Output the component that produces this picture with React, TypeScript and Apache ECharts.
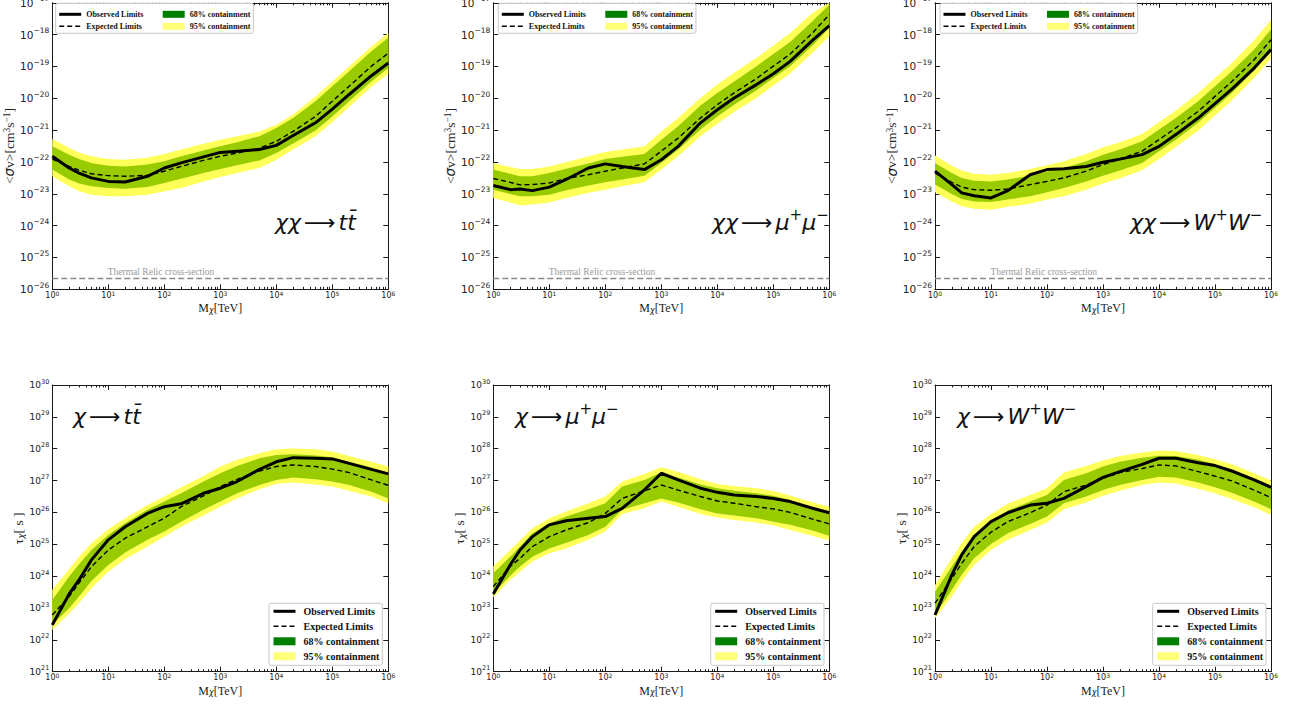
import React, { useEffect, useRef } from 'react';
import * as echarts from 'echarts';

// Dark-matter mass grid (TeV)
const massTeV = [1, 2, 3, 5, 10, 20, 50, 100, 200, 500, 1e3, 2e3, 5e3, 1e4, 2e4, 5e4, 1e5, 2e5, 5e5, 1e6];

// ---- Annihilation limits: log10(<σv> / cm^3 s^-1) ----
const annTTObs = [-21.82, -22.19, -22.35, -22.5, -22.61, -22.63, -22.45, -22.19, -22.03, -21.84, -21.7, -21.66, -21.61, -21.48, -21.17, -20.77, -20.34, -19.88, -19.29, -18.89];
const annTTExp = [-21.91, -22.14, -22.26, -22.37, -22.43, -22.45, -22.42, -22.29, -22.14, -21.95, -21.82, -21.72, -21.57, -21.35, -21.04, -20.57, -20.09, -19.62, -18.99, -18.58];
const annTTHi68 = [-21.51, -21.77, -21.91, -22.03, -22.12, -22.14, -22.08, -21.98, -21.82, -21.64, -21.51, -21.38, -21.19, -20.93, -20.62, -20.09, -19.62, -19.15, -18.52, -18.1];
const annTTLo68 = [-22.24, -22.55, -22.68, -22.76, -22.82, -22.84, -22.79, -22.66, -22.53, -22.35, -22.22, -22.1, -21.95, -21.72, -21.42, -21.01, -20.57, -20.09, -19.47, -19.05];
const annTTHi95 = [-21.28, -21.56, -21.7, -21.82, -21.91, -21.93, -21.87, -21.75, -21.61, -21.43, -21.3, -21.19, -21.04, -20.83, -20.51, -19.94, -19.47, -19.0, -18.37, -17.95];
const annTTLo95 = [-22.45, -22.76, -22.92, -23.03, -23.08, -23.08, -23.03, -22.92, -22.82, -22.61, -22.47, -22.35, -22.19, -21.93, -21.61, -21.19, -20.75, -20.27, -19.64, -19.23];

const annMMObs = [-22.74, -22.87, -22.85, -22.9, -22.79, -22.55, -22.19, -22.06, -22.14, -22.24, -21.93, -21.51, -20.77, -20.36, -19.99, -19.57, -19.23, -18.84, -18.18, -17.72];
const annMMExp = [-22.52, -22.64, -22.72, -22.71, -22.66, -22.52, -22.4, -22.29, -22.19, -22.06, -21.66, -21.25, -20.62, -20.2, -19.83, -19.38, -18.99, -18.61, -17.95, -17.37];
const annMMHi68 = [-22.24, -22.37, -22.45, -22.45, -22.35, -22.21, -22.05, -21.91, -21.84, -21.75, -21.3, -20.88, -20.23, -19.83, -19.47, -18.99, -18.61, -18.23, -17.58, -17.06];
const annMMLo68 = [-22.87, -23.01, -23.08, -23.08, -23.03, -22.89, -22.74, -22.64, -22.55, -22.43, -22.03, -21.61, -20.98, -20.57, -20.2, -19.75, -19.36, -18.99, -18.34, -17.79];
const annMMHi95 = [-22.03, -22.16, -22.22, -22.22, -22.14, -22.01, -21.82, -21.69, -21.61, -21.51, -21.04, -20.62, -19.99, -19.57, -19.2, -18.73, -18.35, -17.95, -17.32, -16.8];
const annMMLo95 = [-23.13, -23.27, -23.37, -23.34, -23.27, -23.13, -22.97, -22.87, -22.76, -22.64, -22.24, -21.82, -21.19, -20.8, -20.43, -19.99, -19.6, -19.23, -18.58, -18.05];

const annWWObs = [-22.29, -22.71, -22.97, -23.06, -23.13, -22.9, -22.4, -22.24, -22.21, -22.14, -22.01, -21.91, -21.77, -21.51, -21.14, -20.62, -20.17, -19.71, -19.05, -18.47];
const annWWExp = [-22.35, -22.64, -22.79, -22.87, -22.89, -22.85, -22.71, -22.61, -22.5, -22.29, -22.08, -21.91, -21.66, -21.3, -20.93, -20.41, -19.94, -19.47, -18.79, -18.16];
const annWWHi68 = [-22.03, -22.35, -22.5, -22.59, -22.61, -22.55, -22.43, -22.31, -22.19, -21.98, -21.77, -21.61, -21.35, -20.98, -20.62, -20.09, -19.62, -19.15, -18.47, -17.84];
const annWWLo68 = [-22.71, -23.01, -23.16, -23.24, -23.26, -23.18, -23.08, -22.95, -22.82, -22.61, -22.43, -22.27, -22.03, -21.66, -21.3, -20.77, -20.3, -19.83, -19.13, -18.52];
const annWWHi95 = [-21.8, -22.12, -22.27, -22.37, -22.4, -22.35, -22.22, -22.1, -21.98, -21.75, -21.54, -21.38, -21.12, -20.75, -20.38, -19.83, -19.36, -18.89, -18.18, -17.53];
const annWWLo95 = [-22.95, -23.24, -23.39, -23.47, -23.5, -23.41, -23.31, -23.18, -23.08, -22.87, -22.68, -22.52, -22.26, -21.91, -21.53, -21.02, -20.54, -20.07, -19.36, -18.75];

// ---- Decay limits: log10(τ / s) ----
const decTTObs = [22.47, 23.44, 23.88, 24.51, 25.14, 25.55, 25.97, 26.18, 26.27, 26.6, 26.76, 26.97, 27.35, 27.59, 27.72, 27.7, 27.68, 27.54, 27.35, 27.21];
const decTTExp = [22.78, 23.36, 23.78, 24.3, 24.82, 25.19, 25.55, 25.82, 26.18, 26.52, 26.81, 27.04, 27.3, 27.44, 27.49, 27.44, 27.36, 27.25, 27.02, 26.85];
const decTTHi68 = [23.25, 23.99, 24.37, 24.82, 25.29, 25.66, 26.08, 26.34, 26.6, 26.97, 27.23, 27.46, 27.7, 27.8, 27.83, 27.79, 27.73, 27.59, 27.41, 27.23];
const decTTLo68 = [22.47, 22.99, 23.36, 23.85, 24.35, 24.74, 25.14, 25.4, 25.71, 26.08, 26.34, 26.6, 26.86, 27.02, 27.1, 27.04, 26.97, 26.86, 26.65, 26.44];
const decTTHi95 = [23.57, 24.22, 24.61, 25.03, 25.47, 25.82, 26.23, 26.5, 26.79, 27.14, 27.44, 27.65, 27.86, 27.98, 28.01, 27.98, 27.91, 27.77, 27.59, 27.44];
const decTTLo95 = [22.31, 22.83, 23.15, 23.62, 24.14, 24.53, 24.93, 25.24, 25.55, 25.9, 26.18, 26.44, 26.73, 26.89, 26.94, 26.88, 26.81, 26.68, 26.5, 26.29];

const decMMObs = [23.44, 24.35, 24.82, 25.24, 25.61, 25.74, 25.82, 25.87, 26.13, 26.71, 27.23, 27.02, 26.76, 26.63, 26.55, 26.5, 26.44, 26.34, 26.13, 25.99];
const decMMExp = [23.67, 24.3, 24.56, 24.93, 25.24, 25.45, 25.68, 25.97, 26.44, 26.68, 26.86, 26.7, 26.5, 26.36, 26.29, 26.18, 26.11, 26.0, 25.79, 25.64];
const decMMHi68 = [24.09, 24.61, 24.93, 25.35, 25.66, 25.87, 26.1, 26.29, 26.81, 27.02, 27.25, 27.1, 26.88, 26.76, 26.68, 26.6, 26.52, 26.39, 26.18, 26.03];
const decMMLo68 = [23.46, 24.01, 24.3, 24.61, 24.87, 25.05, 25.29, 25.55, 26.08, 26.29, 26.44, 26.31, 26.1, 25.97, 25.9, 25.82, 25.71, 25.61, 25.43, 25.27];
const decMMHi95 = [24.3, 24.82, 25.12, 25.5, 25.82, 26.03, 26.29, 26.5, 26.97, 27.21, 27.42, 27.28, 27.04, 26.89, 26.83, 26.76, 26.67, 26.53, 26.32, 26.18];
const decMMLo95 = [23.33, 23.88, 24.14, 24.46, 24.72, 24.87, 25.14, 25.4, 25.95, 26.13, 26.34, 26.18, 25.95, 25.84, 25.76, 25.68, 25.59, 25.45, 25.27, 25.12];

const decWWObs = [22.78, 24.04, 24.67, 25.24, 25.71, 25.99, 26.23, 26.29, 26.44, 26.81, 27.1, 27.28, 27.51, 27.7, 27.7, 27.56, 27.47, 27.3, 27.02, 26.79];
const decWWExp = [23.15, 23.93, 24.4, 24.93, 25.38, 25.71, 25.99, 26.23, 26.65, 26.86, 27.07, 27.25, 27.38, 27.49, 27.46, 27.28, 27.14, 26.99, 26.7, 26.46];
const decWWHi68 = [23.51, 24.3, 24.77, 25.29, 25.74, 26.06, 26.34, 26.55, 27.02, 27.23, 27.44, 27.59, 27.72, 27.78, 27.77, 27.65, 27.51, 27.35, 27.07, 26.86];
const decWWLo68 = [22.78, 23.57, 24.04, 24.56, 25.01, 25.35, 25.64, 25.87, 26.29, 26.5, 26.7, 26.86, 27.02, 27.12, 27.1, 26.94, 26.79, 26.62, 26.34, 26.1];
const decWWHi95 = [23.72, 24.56, 25.03, 25.55, 25.95, 26.27, 26.55, 26.76, 27.25, 27.46, 27.63, 27.77, 27.88, 27.94, 27.93, 27.8, 27.67, 27.51, 27.23, 27.0];
const decWWLo95 = [22.68, 23.36, 23.83, 24.35, 24.82, 25.14, 25.45, 25.68, 26.1, 26.31, 26.52, 26.68, 26.86, 26.94, 26.91, 26.74, 26.6, 26.42, 26.16, 25.92];

// Thermal relic cross-section, log10(2.2e-26)
const thermalRelicLog = -25.66;
const thermalRelicLabelMass = 10;

const annYRange = [-26, -17];
const decYRange = [21, 30];
const massRange = [1, 1e6];

const legendNames = ['Observed Limits', 'Expected Limits', '68% containment', '95% containment'];

const MINUS = '\u2212';
const expStr = (e: number) => (e < 0 ? MINUS : '') + Math.abs(e);

const minorTickExps: number[] = [];
for (let d = 0; d < 6; d++) for (let k = 2; k <= 9; k++) minorTickExps.push(d + Math.log10(k));

type Panel = {
  kind: 'ann' | 'dec';
  col: number;
  obs: number[]; exp: number[];
  lo68: number[]; hi68: number[]; lo95: number[]; hi95: number[];
  label: string; labelLeft: number; labelTop: number;
};

const panels: Panel[] = [
  { kind: 'ann', col: 0, obs: annTTObs, exp: annTTExp, lo68: annTTLo68, hi68: annTTHi68, lo95: annTTLo95, hi95: annTTHi95, label: '{g|χχ}{a|⟶}{g|tt\u0304}', labelLeft: 275, labelTop: 207 },
  { kind: 'ann', col: 1, obs: annMMObs, exp: annMMExp, lo68: annMMLo68, hi68: annMMHi68, lo95: annMMLo95, hi95: annMMHi95, label: '{g|χχ}{a|⟶}{g|μ}{s|+}{g|μ}{s|−}', labelLeft: 712, labelTop: 207 },
  { kind: 'ann', col: 2, obs: annWWObs, exp: annWWExp, lo68: annWWLo68, hi68: annWWHi68, lo95: annWWLo95, hi95: annWWHi95, label: '{g|χχ}{a|⟶}{g|W}{s|+}{g|W}{s|−}', labelLeft: 1130, labelTop: 207 },
  { kind: 'dec', col: 0, obs: decTTObs, exp: decTTExp, lo68: decTTLo68, hi68: decTTHi68, lo95: decTTLo95, hi95: decTTHi95, label: '{g|χ}{a|⟶}{g|tt\u0304}', labelLeft: 73, labelTop: 401 },
  { kind: 'dec', col: 1, obs: decMMObs, exp: decMMExp, lo68: decMMLo68, hi68: decMMHi68, lo95: decMMLo95, hi95: decMMHi95, label: '{g|χ}{a|⟶}{g|μ}{s|+}{g|μ}{s|−}', labelLeft: 515, labelTop: 401 },
  { kind: 'dec', col: 2, obs: decWWObs, exp: decWWExp, lo68: decWWLo68, hi68: decWWHi68, lo95: decWWLo95, hi95: decWWHi95, label: '{g|χ}{a|⟶}{g|W}{s|+}{g|W}{s|−}', labelLeft: 957, labelTop: 401 },
];

const GRID_LEFTS = [52.3, 493.3, 935];
const GRID_W = 336;
const TOP_Y = 2.8, TOP_H = 286.5, BOT_Y = 385, BOT_H = 286.7;
const ANN_LEGEND_LEFTS = [55.7, 498.3, 940];
const DEC_LEGEND_LEFTS = [269, 710.7, 1152.7];

const AXIS_COLOR = '#1a1a1a';
const LABEL_COLOR = '#222';
const BAND68 = '#99cc00';
const BAND95 = '#ffff5a';

function bandSeries(name: string, xi: number, yi: number, lo: number[], hi: number[], color: string) {
  const data = massTeV.map((m, k) => [m, lo[k], hi[k]]);
  return {
    type: 'custom', name, xAxisIndex: xi, yAxisIndex: yi, clip: true, silent: true,
    itemStyle: { color }, data, z: 1,
    renderItem: (params: any, api: any) => {
      if (params.dataIndex !== 0) return null;
      const cs = params.coordSys;
      const clampY = (p: number[]) => [p[0], Math.min(cs.y + cs.height, Math.max(cs.y, p[1]))];
      const up = data.map((d) => clampY(api.coord([d[0], d[2]])));
      const dn = data.map((d) => clampY(api.coord([d[0], d[1]]))).reverse();
      return { type: 'polygon', shape: { points: up.concat(dn) }, style: { fill: color, stroke: null } };
    },
  };
}

const hiddenSymbol = { color: 'rgba(0,0,0,0)', opacity: 0, borderWidth: 0 };

function buildOption() {
  const grid: any[] = [], xAxis: any[] = [], yAxis: any[] = [], series: any[] = [], legend: any[] = [], title: any[] = [];

  panels.forEach((p, i) => {
    const isAnn = p.kind === 'ann';
    grid.push({ left: GRID_LEFTS[p.col], top: isAnn ? TOP_Y : BOT_Y, width: GRID_W, height: isAnn ? TOP_H : BOT_H, containLabel: false, outerBoundsMode: 'none' });

    const xLabelRich = {
      b: { fontSize: 8, fontFamily: 'DejaVu Sans', color: LABEL_COLOR, lineHeight: 10 },
      s: { fontSize: 6, fontFamily: 'DejaVu Sans', color: LABEL_COLOR, lineHeight: 4, verticalAlign: 'top' },
    };
    xAxis.push({
      type: 'log', logBase: 10, gridIndex: i, min: massRange[0], max: massRange[1], position: 'bottom',
      axisLine: { show: true, onZero: false, lineStyle: { color: AXIS_COLOR, width: 1 } },
      axisTick: { show: true, inside: true, length: 5, lineStyle: { color: AXIS_COLOR } },
      axisLabel: { margin: 1, formatter: (v: number) => `{b|10}{s|${expStr(Math.round(Math.log10(v)))}}`, rich: xLabelRich },
      splitLine: { show: false },
      name: 'M{sub|χ}[TeV]', nameLocation: 'middle', nameGap: 13,
      nameTextStyle: {
        fontFamily: 'Liberation Serif', fontSize: 12, color: LABEL_COLOR,
        rich: { sub: { fontFamily: 'DejaVu Sans', fontStyle: 'italic', fontSize: 8, verticalAlign: 'bottom', lineHeight: 10, color: LABEL_COLOR } },
      },
    });
    xAxis.push({
      type: 'log', logBase: 10, gridIndex: i, min: massRange[0], max: massRange[1], position: 'top',
      axisLine: { show: true, onZero: false, lineStyle: { color: AXIS_COLOR, width: 1 } },
      axisTick: { show: true, inside: true, length: 5, lineStyle: { color: AXIS_COLOR } },
      axisLabel: { show: false }, splitLine: { show: false },
    });
    for (const pos of ['bottom', 'top']) {
      xAxis.push({
        type: 'value', gridIndex: i, min: 0, max: 6, position: pos,
        axisLine: { show: false, onZero: false },
        axisTick: { show: true, inside: true, length: 2.5, customValues: minorTickExps, lineStyle: { color: AXIS_COLOR } },
        axisLabel: { show: false }, splitLine: { show: false },
      });
    }

    const yr = isAnn ? annYRange : decYRange;
    const yb = isAnn ? 10.5 : 9;
    const ys = isAnn ? 7.5 : 6.5;
    yAxis.push({
      type: 'value', gridIndex: i, min: yr[0], max: yr[1], interval: 1, position: 'left',
      axisLine: { show: true, onZero: false, lineStyle: { color: AXIS_COLOR, width: 1 } },
      axisTick: { show: true, inside: true, length: 5, lineStyle: { color: AXIS_COLOR } },
      axisLabel: {
        margin: 3, formatter: (v: number) => `{b|10}{s|${expStr(Math.round(v))}}`,
        rich: {
          b: { fontSize: yb, fontFamily: 'DejaVu Sans', color: LABEL_COLOR, lineHeight: yb * 1.55 },
          s: { fontSize: ys, fontFamily: 'DejaVu Sans', color: LABEL_COLOR, lineHeight: ys, verticalAlign: 'top' },
        },
      },
      splitLine: { show: false },
      name: isAnn ? '<{i|σ}v>[cm{s|3}s{s|−1}]' : '{t|τ}{sub|χ}[ s ]',
      nameLocation: 'middle', nameGap: isAnn ? 26 : 24, nameRotate: 90,
      nameTextStyle: {
        fontFamily: 'Liberation Serif', fontSize: 13.5, color: LABEL_COLOR, lineHeight: 14,
        rich: {
          i: { fontFamily: 'DejaVu Sans', fontStyle: 'italic', fontSize: 13.5, color: LABEL_COLOR, lineHeight: 14 },
          t: { fontFamily: 'Liberation Serif', fontSize: 13.5, color: LABEL_COLOR, lineHeight: 14 },
          s: { fontFamily: 'Liberation Serif', fontSize: 9.5, color: LABEL_COLOR, verticalAlign: 'top', lineHeight: 7 },
          sub: { fontFamily: 'DejaVu Sans', fontStyle: 'italic', fontSize: 9, color: LABEL_COLOR, verticalAlign: 'bottom', lineHeight: 7 },
        },
      },
    });
    yAxis.push({
      type: 'value', gridIndex: i, min: yr[0], max: yr[1], interval: 1, position: 'right',
      axisLine: { show: true, onZero: false, lineStyle: { color: AXIS_COLOR, width: 1 } },
      axisTick: { show: true, inside: true, length: 5, lineStyle: { color: AXIS_COLOR } },
      axisLabel: { show: false }, splitLine: { show: false },
    });

    const xi = i * 4, yi = i * 2;
    series.push(bandSeries('95% containment', xi, yi, p.lo95, p.hi95, BAND95));
    series.push(bandSeries('68% containment', xi, yi, p.lo68, p.hi68, BAND68));
    if (isAnn) {
      series.push({
        type: 'line', name: 'Thermal Relic cross-section', xAxisIndex: xi, yAxisIndex: yi, silent: true,
        data: [[massRange[0], thermalRelicLog], [massRange[1], thermalRelicLog]],
        symbol: 'none', lineStyle: { color: '#8a8a8a', width: 1.4, type: [6, 3] }, z: 2,
        markPoint: {
          symbol: 'circle', symbolSize: 1, itemStyle: { color: 'rgba(0,0,0,0)' }, silent: true,
          label: { show: true, position: [0, -11], formatter: 'Thermal Relic cross-section', color: '#9a9a9a', fontFamily: 'Liberation Serif', fontSize: 9.5 },
          data: [{ coord: [thermalRelicLabelMass, thermalRelicLog] }],
        },
      });
    }
    series.push({
      type: 'line', name: 'Expected Limits', xAxisIndex: xi, yAxisIndex: yi, silent: true,
      data: massTeV.map((m, k) => [m, p.exp[k]]), symbol: 'none',
      lineStyle: { color: '#000', width: 1.4, type: [5, 3] }, z: 3,
    });
    series.push({
      type: 'line', name: 'Observed Limits', xAxisIndex: xi, yAxisIndex: yi, silent: true,
      data: massTeV.map((m, k) => [m, p.obs[k]]), symbol: 'none',
      lineStyle: { color: '#000', width: 3 }, z: 4,
    });

    if (isAnn) {
      legend.push({
        type: 'plain', orient: 'vertical', left: ANN_LEGEND_LEFTS[p.col], top: 3.3, height: 24,
        itemGap: 2, itemWidth: 22, itemHeight: 7, padding: [6, 3, 2, 2], selectedMode: false,
        backgroundColor: '#ffffff', borderColor: '#c8c8c8', borderWidth: 1, borderRadius: 2,
        lineStyle: { width: 'inherit', type: 'inherit' },
        textStyle: { fontFamily: 'Liberation Serif', fontWeight: 'bold', fontSize: 8, color: '#111', lineHeight: 10 },
        data: [
          { name: legendNames[0], textStyle: { width: 73 }, itemStyle: hiddenSymbol },
          { name: legendNames[1], textStyle: { width: 73 }, itemStyle: hiddenSymbol },
          { name: legendNames[2], icon: 'rect', itemStyle: { color: '#008000' } },
          { name: legendNames[3], icon: 'rect', itemStyle: { color: '#ffff78' } },
        ],
      });
    } else {
      legend.push({
        type: 'plain', orient: 'vertical', left: DEC_LEGEND_LEFTS[p.col], top: 603.3,
        itemGap: 3, itemWidth: 22, itemHeight: 8, padding: [2, 3, 3, 3], selectedMode: false,
        backgroundColor: '#ffffff', borderColor: '#c8c8c8', borderWidth: 1, borderRadius: 2,
        lineStyle: { width: 'inherit', type: 'inherit' },
        textStyle: { fontFamily: 'Liberation Serif', fontWeight: 'bold', fontSize: 10, color: '#111', lineHeight: 12, padding: [0, 0, 0, 3] },
        data: [
          { name: legendNames[0], itemStyle: hiddenSymbol },
          { name: legendNames[1], itemStyle: hiddenSymbol },
          { name: legendNames[2], icon: 'rect', itemStyle: { color: '#008000' } },
          { name: legendNames[3], icon: 'rect', itemStyle: { color: '#ffff78' } },
        ],
      });
    }

    title.push({
      text: p.label, left: p.labelLeft, top: p.labelTop, padding: 0,
      textStyle: {
        fontWeight: 'normal',
        rich: {
          g: { fontFamily: 'DejaVu Sans', fontStyle: 'italic', fontWeight: 'normal', fontSize: 22, color: '#111', lineHeight: 30 },
          a: { fontFamily: 'DejaVu Sans', fontWeight: 'normal', fontSize: 22, color: '#111', lineHeight: 30, padding: [0, 3, 0, 3] },
          s: { fontFamily: 'DejaVu Sans', fontWeight: 'normal', fontSize: 15, color: '#111', lineHeight: 12, verticalAlign: 'top' },
        },
      },
    });
  });

  return { animation: false, backgroundColor: '#ffffff', grid, xAxis, yAxis, series, legend, title };
}

export default function App() {
  const ref = useRef<HTMLDivElement>(null);
  useEffect(() => {
    if (!ref.current) return;
    const chart = echarts.init(ref.current, undefined, { renderer: 'svg' });
    chart.setOption(buildOption() as any);
    return () => chart.dispose();
  }, []);
  return <div ref={ref} style={{ position: 'fixed', left: 0, top: 0, width: 1296, height: 707, background: '#fff' }} />;
}
